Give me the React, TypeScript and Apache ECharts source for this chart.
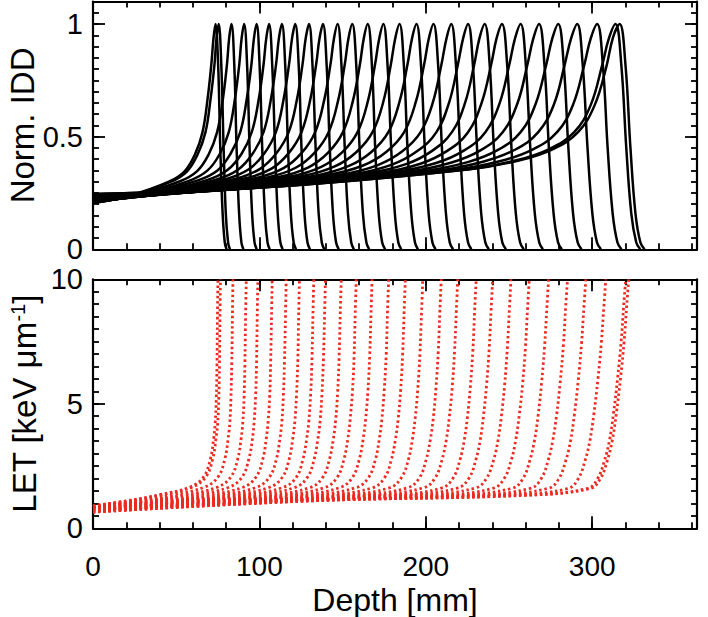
import React, { useEffect, useRef } from "react";
import * as echarts from "echarts";

// Axis ranges and tick labels
const depthMax = 363;
const iddMax = 1.1;
const letMax = 10;
const depthTickStep = 100;
const depthMinorStep = 20;
const iddTickStep = 0.5;
const iddMinorStep = 0.05;
const letTickStep = 5;
const letMinorStep = 0.5;

// Normalised integral depth-dose curves: [depth mm, normalised IDD]
const iddCurves: number[][][] = [
  [[0,0.205],[22.8,0.24],[45.6,0.3],[54.9,0.345],[61.2,0.42],[65.8,0.52],[68.9,0.67],[71.1,0.82],[72.4,0.935],[73.6,1],[75.2,0.82],[76.5,0.45],[77.9,0.16],[79.2,0.03],[80.3,0]],
  [[0,0.205],[23.5,0.24],[46.9,0.3],[56.4,0.345],[62.8,0.42],[67.6,0.52],[70.7,0.67],[73,0.82],[74.2,0.935],[75.5,1],[77.1,0.82],[78.5,0.45],[79.8,0.16],[81.2,0.03],[82.3,0]],
  [[0,0.207],[26.2,0.242],[52.3,0.302],[62.6,0.347],[69.5,0.421],[74.6,0.52],[78.1,0.669],[80.5,0.82],[81.8,0.935],[83.2,1],[84.9,0.82],[86.3,0.45],[87.8,0.16],[89.2,0.03],[90.4,0]],
  [[0,0.208],[28.9,0.243],[57.7,0.304],[68.7,0.349],[76.1,0.422],[81.6,0.52],[85.3,0.668],[87.9,0.82],[89.3,0.935],[90.8,1],[92.6,0.82],[94.1,0.45],[95.6,0.16],[97.1,0.03],[98.4,0]],
  [[0,0.209],[31.5,0.244],[63,0.306],[74.8,0.35],[82.6,0.423],[88.5,0.52],[92.4,0.667],[95.2,0.82],[96.7,0.935],[98.3,1],[100.1,0.82],[101.7,0.45],[103.3,0.16],[104.9,0.03],[106.2,0]],
  [[0,0.21],[34.2,0.245],[68.4,0.307],[80.8,0.352],[89.2,0.423],[95.4,0.52],[99.6,0.666],[102.5,0.82],[104.1,0.935],[105.8,1],[107.7,0.82],[109.4,0.45],[111,0.16],[112.6,0.03],[114,0]],
  [[0,0.212],[37,0.247],[73.9,0.309],[87.1,0.353],[95.9,0.424],[102.5,0.52],[106.9,0.665],[110,0.82],[111.7,0.935],[113.5,1],[115.5,0.82],[117.2,0.45],[118.9,0.16],[120.6,0.03],[122,0]],
  [[0,0.213],[39.8,0.248],[79.6,0.311],[93.6,0.355],[102.9,0.425],[109.9,0.52],[114.5,0.664],[117.8,0.82],[119.6,0.935],[121.5,1],[123.6,0.82],[125.3,0.45],[127.1,0.16],[128.9,0.03],[130.4,0]],
  [[0,0.214],[42.9,0.249],[85.7,0.313],[100.4,0.357],[110.2,0.426],[117.6,0.52],[122.5,0.663],[125.9,0.82],[127.8,0.935],[129.8,1],[131.9,0.82],[133.8,0.45],[135.6,0.16],[137.5,0.03],[139,0]],
  [[0,0.216],[45.9,0.251],[91.8,0.315],[107.3,0.358],[117.6,0.427],[125.3,0.52],[130.5,0.662],[134.1,0.82],[136.1,0.935],[138.2,1],[140.4,0.82],[142.3,0.45],[144.2,0.16],[146.1,0.03],[147.7,0]],
  [[0,0.217],[49.2,0.252],[98.3,0.317],[114.5,0.36],[125.4,0.428],[133.5,0.52],[138.9,0.661],[142.7,0.82],[144.8,0.935],[147,1],[149.3,0.82],[151.3,0.45],[153.2,0.16],[155.2,0.03],[156.8,0]],
  [[0,0.219],[52.4,0.254],[104.8,0.319],[121.8,0.362],[133.1,0.428],[141.6,0.52],[147.3,0.66],[151.3,0.82],[153.5,0.935],[155.8,1],[158.2,0.82],[160.2,0.45],[162.2,0.16],[164.3,0.03],[166,0]],
  [[0,0.22],[55.8,0.255],[111.6,0.321],[129.5,0.364],[141.3,0.429],[150.2,0.52],[156.2,0.659],[160.4,0.82],[162.7,0.935],[165.1,1],[167.6,0.82],[169.6,0.45],[171.7,0.16],[173.8,0.03],[175.6,0]],
  [[0,0.222],[59.3,0.257],[118.6,0.323],[137.2,0.366],[149.7,0.43],[159,0.52],[165.2,0.658],[169.5,0.82],[172,0.935],[174.5,1],[177,0.82],[179.2,0.45],[181.4,0.16],[183.5,0.03],[185.3,0]],
  [[0,0.223],[62.9,0.258],[125.8,0.325],[145.3,0.368],[158.2,0.431],[168,0.52],[174.5,0.656],[179,0.82],[181.6,0.935],[184.2,1],[186.8,0.82],[189,0.45],[191.3,0.16],[193.5,0.03],[195.3,0]],
  [[0,0.225],[66.8,0.26],[133.5,0.327],[153.8,0.37],[167.3,0.432],[177.5,0.52],[184.2,0.655],[189,0.82],[191.7,0.935],[194.4,1],[197.1,0.82],[199.4,0.45],[201.7,0.16],[204,0.03],[205.9,0]],
  [[0,0.227],[70.6,0.262],[141.1,0.33],[162.3,0.372],[176.4,0.433],[187,0.52],[194,0.654],[199,0.82],[201.8,0.935],[204.6,1],[207.4,0.82],[209.7,0.45],[212.1,0.16],[214.4,0.03],[216.4,0]],
  [[0,0.228],[74.6,0.263],[149.1,0.332],[171.2,0.374],[185.9,0.435],[196.9,0.52],[204.3,0.653],[209.4,0.82],[212.4,0.935],[215.3,1],[218.1,0.82],[220.6,0.45],[223,0.16],[225.4,0.03],[227.4,0]],
  [[0,0.23],[78.4,0.265],[156.8,0.334],[179.7,0.376],[194.9,0.436],[206.4,0.52],[214,0.651],[219.3,0.82],[222.4,0.935],[225.4,1],[228.3,0.82],[230.8,0.45],[233.3,0.16],[235.8,0.03],[237.9,0]],
  [[0,0.232],[82.2,0.267],[164.4,0.337],[188.1,0.378],[203.8,0.437],[215.7,0.52],[223.6,0.65],[229.1,0.82],[232.2,0.935],[235.4,1],[238.4,0.82],[240.9,0.45],[243.5,0.16],[246,0.03],[248.2,0]],
  [[0,0.233],[86.2,0.268],[172.3,0.339],[196.8,0.38],[213.1,0.438],[225.4,0.52],[233.5,0.649],[239.3,0.82],[242.5,0.935],[245.8,1],[248.9,0.82],[251.5,0.45],[254.1,0.16],[256.7,0.03],[258.9,0]],
  [[0,0.235],[90.4,0.27],[180.8,0.342],[206.2,0.383],[223.1,0.439],[235.8,0.52],[244.3,0.647],[250.2,0.82],[253.6,0.935],[257,1],[260.1,0.82],[262.8,0.45],[265.5,0.16],[268.2,0.03],[270.4,0]],
  [[0,0.237],[94.7,0.272],[189.3,0.344],[215.5,0.385],[233.1,0.44],[246.2,0.52],[255,0.646],[261.1,0.82],[264.6,0.935],[268.1,1],[271.3,0.82],[274,0.45],[276.8,0.16],[279.5,0.03],[281.8,0]],
  [[0,0.239],[99,0.274],[198.1,0.347],[225.2,0.387],[243.4,0.441],[257,0.52],[266,0.645],[272.4,0.82],[276,0.935],[279.6,1],[282.9,0.82],[285.7,0.45],[288.5,0.16],[291.3,0.03],[293.6,0]],
  [[0,0.241],[103.4,0.276],[206.8,0.349],[234.9,0.39],[253.6,0.442],[267.6,0.52],[277,0.643],[283.5,0.82],[287.3,0.935],[291,1],[294.3,0.82],[297.2,0.45],[300.1,0.16],[302.9,0.03],[305.3,0]],
  [[0,0.243],[108.1,0.278],[216.1,0.352],[245,0.392],[264.4,0.444],[278.9,0.52],[288.5,0.642],[295.3,0.82],[299.1,0.935],[303,1],[306.4,0.82],[309.3,0.45],[312.3,0.16],[315.2,0.03],[317.6,0]],
  [[0,0.245],[112.3,0.28],[224.5,0.354],[254.4,0.395],[274.2,0.445],[289.2,0.52],[299.1,0.64],[306.1,0.82],[310,0.935],[314,1],[317.5,0.82],[320.5,0.45],[323.5,0.16],[326.5,0.03],[328.9,0]],
  [[0,0.245],[113.3,0.28],[226.5,0.355],[256.5,0.395],[276.5,0.445],[291.5,0.52],[301.5,0.64],[308.5,0.81],[312.5,0.94],[316.5,1],[320,0.82],[323,0.45],[326,0.16],[329,0.03],[331.5,0]],
];

// LET curves: [depth mm, LET keV/um]
const letCurves: number[][][] = [
  [[0,0.9],[20.1,1.1],[40.1,1.35],[58.4,1.66],[66.5,2.07],[70.6,2.8],[72.5,3.6],[73.4,4.2],[74.1,5.2],[74.5,6.6],[74.8,8.5],[75.1,10]],
  [[0,0.9],[20.7,1.1],[41.4,1.35],[59.9,1.66],[67.9,2.07],[72,2.8],[73.9,3.6],[74.9,4.2],[75.6,5.2],[76,6.6],[76.3,8.5],[76.6,10]],
  [[0,0.89],[24.1,1.1],[48.1,1.35],[67.2,1.66],[75.2,2.07],[79.3,2.8],[81.2,3.6],[82.2,4.22],[82.9,5.23],[83.4,6.64],[83.8,8.52],[84.1,10]],
  [[0,0.88],[27.7,1.1],[55.3,1.35],[75,1.66],[82.9,2.07],[87,2.79],[89,3.59],[90,4.23],[90.8,5.26],[91.3,6.66],[91.7,8.54],[92.1,10]],
  [[0,0.87],[30.8,1.1],[61.5,1.35],[81.8,1.65],[89.6,2.06],[93.7,2.79],[95.8,3.59],[96.8,4.24],[97.7,5.28],[98.3,6.69],[98.7,8.55],[99.1,10]],
  [[0,0.87],[34.7,1.1],[69.4,1.35],[90.2,1.65],[98,2.06],[102.1,2.79],[104.1,3.59],[105.2,4.25],[106.2,5.31],[106.8,6.72],[107.3,8.57],[107.7,10]],
  [[0,0.86],[38.5,1.1],[77,1.35],[98.4,1.65],[106.1,2.06],[110.2,2.78],[112.3,3.58],[113.5,4.27],[114.4,5.33],[115.1,6.75],[115.7,8.58],[116.1,10]],
  [[0,0.85],[42.1,1.1],[84.2,1.35],[106.2,1.65],[113.9,2.06],[117.9,2.78],[120,3.58],[121.3,4.28],[122.3,5.36],[123.1,6.78],[123.6,8.6],[124.1,10]],
  [[0,0.84],[46,1.1],[91.9,1.35],[114.5,1.65],[122.2,2.05],[126.2,2.78],[128.4,3.58],[129.7,4.29],[130.8,5.38],[131.6,6.81],[132.2,8.62],[132.7,10]],
  [[0,0.83],[49,1.1],[98,1.34],[121.3,1.64],[128.9,2.05],[132.9,2.77],[135.1,3.57],[136.5,4.31],[137.6,5.41],[138.5,6.84],[139.2,8.63],[139.7,10]],
  [[0,0.82],[53.3,1.1],[106.6,1.34],[130.6,1.64],[138.1,2.05],[142.1,2.77],[144.4,3.57],[145.8,4.32],[147,5.44],[147.9,6.87],[148.6,8.65],[149.2,10]],
  [[0,0.82],[57.4,1.1],[114.7,1.34],[139.4,1.64],[146.8,2.05],[150.8,2.77],[153.1,3.57],[154.5,4.34],[155.9,5.47],[156.9,6.9],[157.6,8.67],[158.2,10]],
  [[0,0.81],[61.7,1.1],[123.3,1.34],[148.6,1.64],[155.9,2.04],[160,2.76],[162.3,3.56],[163.8,4.35],[165.2,5.5],[166.3,6.94],[167.1,8.69],[167.7,10]],
  [[0,0.8],[66.2,1.1],[132.3,1.34],[158.4,1.64],[165.6,2.04],[169.7,2.76],[172,3.56],[173.6,4.37],[175,5.53],[176.2,6.97],[177,8.71],[177.7,10]],
  [[0,0.79],[70.7,1.1],[141.3,1.34],[168.1,1.63],[175.3,2.04],[179.3,2.75],[181.7,3.55],[183.4,4.38],[184.9,5.56],[186.1,7.01],[187,8.73],[187.7,10]],
  [[0,0.78],[75.4,1.1],[150.8,1.34],[178.4,1.63],[185.4,2.04],[189.5,2.75],[191.9,3.55],[193.6,4.4],[195.2,5.6],[196.5,7.05],[197.5,8.75],[198.2,10]],
  [[0,0.77],[80.4,1.1],[160.8,1.34],[189.2,1.63],[196.2,2.03],[200.2,2.75],[202.7,3.55],[204.5,4.42],[206.1,5.63],[207.5,7.09],[208.5,8.77],[209.3,10]],
  [[0,0.75],[84.8,1.1],[169.6,1.34],[198.8,1.63],[205.7,2.03],[209.7,2.74],[212.3,3.54],[214.1,4.43],[215.9,5.67],[217.3,7.12],[218.4,8.79],[219.2,10]],
  [[0,0.74],[89.9,1.1],[179.7,1.34],[209.7,1.62],[216.5,2.03],[220.5,2.74],[223.1,3.54],[225,4.45],[226.8,5.7],[228.3,7.16],[229.4,8.81],[230.3,10]],
  [[0,0.73],[94.3,1.1],[188.5,1.34],[219.3,1.62],[226,2.02],[230,2.73],[232.7,3.53],[234.6,4.47],[236.5,5.73],[238.1,7.2],[239.3,8.83],[240.2,10]],
  [[0,0.72],[99.3,1.1],[198.5,1.34],[230,1.62],[236.6,2.02],[240.7,2.73],[243.4,3.53],[245.4,4.48],[247.4,5.77],[249,7.24],[250.3,8.85],[251.2,10]],
  [[0,0.71],[104.2,1.1],[208.3,1.33],[240.7,1.61],[247.3,2.02],[251.3,2.72],[254,3.52],[256.1,4.5],[258.2,5.8],[259.9,7.28],[261.2,8.88],[262.2,10]],
  [[0,0.7],[109.4,1.1],[218.8,1.33],[252.1,1.61],[258.5,2.01],[262.5,2.72],[265.3,3.52],[267.5,4.52],[269.6,5.84],[271.4,7.32],[272.8,8.9],[273.8,10]],
  [[0,0.69],[114.5,1.1],[229,1.33],[263.2,1.61],[269.5,2.01],[273.5,2.72],[276.3,3.52],[278.6,4.54],[280.8,5.88],[282.7,7.36],[284.1,8.92],[285.2,10]],
  [[0,0.68],[119.4,1.1],[238.8,1.33],[273.9,1.61],[280.1,2.01],[284.1,2.71],[287,3.51],[289.3,4.56],[291.6,5.92],[293.6,7.41],[295.1,8.95],[296.2,10]],
  [[0,0.66],[124.8,1.1],[249.6,1.33],[285.6,1.6],[291.7,2],[295.7,2.71],[298.6,3.51],[301,4.58],[303.4,5.96],[305.5,7.45],[307.1,8.97],[308.2,10]],
  [[0,0.65],[130.2,1.1],[260.5,1.33],[297.3,1.6],[303.3,2],[307.3,2.7],[310.3,3.5],[312.8,4.6],[315.2,5.99],[317.4,7.49],[319,9],[320.2,10]],
  [[0,0.65],[131,1.1],[262,1.33],[299,1.6],[305,2],[309,2.7],[312,3.5],[314.5,4.6],[317,6],[319.2,7.5],[320.8,9],[322,10]],
];

const FONT = "'Liberation Sans', Arial, Helvetica, sans-serif";
const INK = "#000";
const RED = "#ec2a20";

function buildOption() {
  const tickStyle = { color: INK, width: 1.8 };
  const frame = { show: true, onZero: false, lineStyle: { color: INK, width: 2.2 } };
  const noLine = { show: false, onZero: false };
  const labelStyle = { fontSize: 29, fontFamily: FONT, color: INK };
  const nameStyle = { fontSize: 33, fontFamily: FONT, color: INK };

  const xAxes = (gi: number, labels: boolean) => {
    const base: any = { type: "value", gridIndex: gi, min: 0, max: depthMax, splitLine: { show: false } };
    return [
      { ...base, position: "bottom", interval: depthMinorStep, axisLine: frame, axisTick: { inside: true, length: 6, lineStyle: tickStyle }, axisLabel: { show: false } },
      {
        ...base, position: "bottom", interval: depthTickStep, axisLine: noLine,
        axisTick: { inside: true, length: 12, lineStyle: tickStyle },
        axisLabel: labels ? { ...labelStyle, fontSize: 28, margin: 24, showMaxLabel: false } : { show: false },
        name: labels ? "Depth [mm]" : "", nameLocation: "middle", nameGap: 56, nameMoveOverlap: false,
        nameTextStyle: { ...nameStyle, fontSize: 32 },
      },
      { ...base, position: "top", interval: depthMinorStep, axisLine: frame, axisTick: { inside: true, length: 6, lineStyle: tickStyle }, axisLabel: { show: false } },
      { ...base, position: "top", interval: depthTickStep, axisLine: noLine, axisTick: { inside: true, length: 12, lineStyle: tickStyle }, axisLabel: { show: false } },
    ];
  };

  const yAxes = (gi: number, max: number, step: number, minor: number, name: string, gap: number, rich?: any, hideMax?: boolean) => {
    const base: any = { type: "value", gridIndex: gi, min: 0, max, splitLine: { show: false } };
    return [
      { ...base, position: "left", interval: minor, axisLine: frame, axisTick: { inside: true, length: 6, lineStyle: tickStyle }, axisLabel: { show: false } },
      {
        ...base, position: "left", interval: step, axisLine: noLine,
        axisTick: { inside: true, length: 12, lineStyle: tickStyle },
        axisLabel: { ...labelStyle, margin: 10, showMaxLabel: hideMax ? false : true },
        name, nameLocation: "middle", nameGap: gap, nameMoveOverlap: false,
        nameTextStyle: { ...nameStyle, rich },
      },
      { ...base, position: "right", interval: minor, axisLine: frame, axisTick: { inside: true, length: 6, lineStyle: tickStyle }, axisLabel: { show: false } },
      { ...base, position: "right", interval: step, axisLine: noLine, axisTick: { inside: true, length: 12, lineStyle: tickStyle }, axisLabel: { show: false } },
    ];
  };

  const letRich = {
    sup: { fontSize: 20, fontFamily: FONT, color: INK, verticalAlign: "top" },
  };

  const series: any[] = [];
  iddCurves.forEach((c) => {
    series.push({
      type: "line", xAxisIndex: 0, yAxisIndex: 0, data: c, symbol: "none", smooth: 0.4,
      lineStyle: { color: INK, width: 2.5 }, silent: true,
    });
  });
  letCurves.forEach((c) => {
    series.push({
      type: "line", xAxisIndex: 4, yAxisIndex: 4, data: c, symbol: "none", smooth: 0.4,
      lineStyle: { color: RED, width: 2.8, type: [2.4, 2.8], cap: "butt" }, silent: true,
    });
  });

  return {
    animation: false,
    backgroundColor: "#fff",
    grid: [
      { left: 93, top: 1.5, width: 604, height: 247.8, outerBoundsMode: "none", containLabel: false },
      { left: 93, top: 279.3, width: 604, height: 249, outerBoundsMode: "none", containLabel: false },
    ],
    xAxis: [...xAxes(0, false), ...xAxes(1, true)],
    yAxis: [
      ...yAxes(0, iddMax, iddTickStep, iddMinorStep, "Norm. IDD", 54, undefined, true),
      ...yAxes(1, letMax, letTickStep, letMinorStep, "LET [keV μm{sup|-1}]", 52, letRich, false),
    ],
    series,
  };
}

export default function App() {
  const ref = useRef<HTMLDivElement>(null);
  useEffect(() => {
    if (!ref.current) return;
    const chart = echarts.init(ref.current, null, { renderer: "svg" });
    chart.setOption(buildOption() as any);
    return () => chart.dispose();
  }, []);
  return (
    <div
      ref={ref}
      style={{ position: "absolute", left: 0, top: 0, width: 708, height: 617, background: "#fff" }}
    />
  );
}
